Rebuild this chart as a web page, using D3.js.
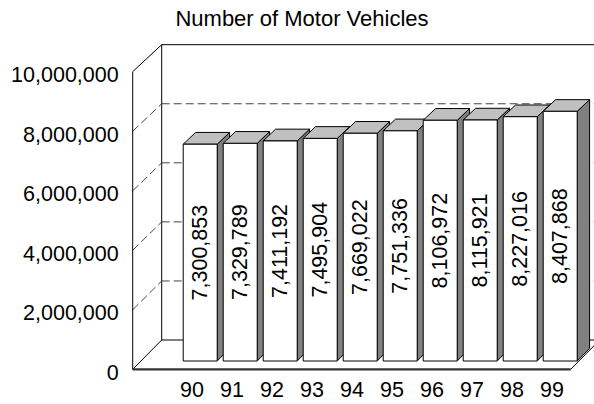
<!DOCTYPE html>
<html>
<head>
<meta charset="utf-8">
<script src="https://cdn.jsdelivr.net/npm/d3@7"></script>
<style>
  body { margin: 0; background: #fff; }
  svg { display: block; font-family: Arial, "Liberation Sans", Helvetica, sans-serif; }
</style>
</head>
<body>
<svg id="chart" width="594" height="404"></svg>
<script>
// chart data
const years = ["90", "91", "92", "93", "94", "95", "96", "97", "98", "99"];
const vehicles = [7300853, 7329789, 7411192, 7495904, 7669022, 7751336, 8106972, 8115921, 8227016, 8407868];
const yTicks = [0, 2000000, 4000000, 6000000, 8000000, 10000000];
const title = "Number of Motor Vehicles";

const svg = d3.select("#chart");
const fmt = d3.format(",");

// frame geometry (front plane and back plane of the box)
const left = 132.7, right = 570.7, depthX = 29;
const yFront = d3.scaleLinear().domain([0, 10000000]).range([369.3, 71.7]);
const yBack = d3.scaleLinear().domain([0, 10000000]).range([340, 44.7]);
const x = d3.scaleBand().domain(years).range([172, 572]).paddingInner(0.15).paddingOuter(0.075);

// point in the box: px = front x, v = value, t = depth 0..1
const pt = (px, v, t) => [px + t * depthX, (1 - t) * yFront(v) + t * yBack(v)];

const frame = svg.append("g").attr("fill", "none");

function seg(g, a, b, dashed, w, col) {
  g.append("line")
    .attr("x1", a[0]).attr("y1", a[1]).attr("x2", b[0]).attr("y2", b[1])
    .attr("stroke", col || "#000")
    .attr("stroke-width", w || 1)
    .attr("stroke-dasharray", dashed ? "8,4" : null);
}

// back wall grid
yTicks.forEach((v) => {
  const inner = v > 0 && v < 10000000;
  seg(frame, pt(left, v, 1), pt(right, v, 1), inner, 1, inner ? "#444" : "#000");
});
seg(frame, pt(left, 0, 1), pt(left, 10000000, 1));

// left wall grid
yTicks.forEach((v) => {
  const inner = v > 0 && v < 10000000;
  seg(frame, pt(left, v, 0), pt(left, v, 1), inner, 1, inner ? "#444" : "#000");
});
seg(frame, pt(left, 0, 0), pt(left, 10000000, 0));

// floor
seg(frame, pt(right, 0, 0), pt(right, 0, 1));

// bars
const t0 = 0.283, t1 = 0.71;
const bars = svg.append("g")
  .selectAll("g")
  .data(vehicles)
  .join("g")
  .attr("stroke", "#000")
  .attr("stroke-width", 1)
  .attr("stroke-linejoin", "round");

const poly = (pts) => "M" + pts.map((p) => p.join(",")).join("L") + "Z";

bars.each(function (d, i) {
  const g = d3.select(this);
  const x0 = x(years[i]), x1 = x0 + x.bandwidth();
  // side face
  g.append("path")
    .attr("fill", "#808080")
    .attr("d", poly([pt(x1, 0, t0), pt(x1, d, t0), pt(x1, d, t1), pt(x1, 0, t1)]));
  // top face
  g.append("path")
    .attr("fill", "#c0c0c0")
    .attr("d", poly([pt(x0, d, t0), pt(x1, d, t0), pt(x1, d, t1), pt(x0, d, t1)]));
  // front face
  g.append("path")
    .attr("fill", "#fff")
    .attr("d", poly([pt(x0, 0, t0), pt(x1, 0, t0), pt(x1, d, t0), pt(x0, d, t0)]));
  // value label
  const c = pt((x0 + x1) / 2, d / 2, t0);
  g.append("text")
    .attr("stroke", "none")
    .attr("fill", "#000")
    .attr("font-size", 21.5)
    .attr("text-anchor", "middle")
    .attr("dominant-baseline", "central")
    .attr("transform", `translate(${c[0]},${c[1]}) rotate(-90)`)
    .text(fmt(d));
});

// front floor edge
seg(svg, pt(left, 0, 0), pt(right, 0, 0), false, 2.2, "#333");

// y axis labels
const yAxis = svg.append("g")
  .attr("transform", `translate(${left},0)`)
  .call(d3.axisLeft(yFront).tickValues(yTicks).tickFormat(fmt).tickSize(0).tickPadding(14));
yAxis.select(".domain").remove();
yAxis.selectAll("text")
  .attr("font-size", 21.5)
  .attr("font-family", null)
  .attr("fill", "#000")
  .attr("dy", "0.47em");

// x axis labels
const xAxis = svg.append("g")
  .attr("transform", `translate(0,${yFront(0)})`)
  .call(d3.axisBottom(x).tickSize(0).tickPadding(12));
xAxis.select(".domain").remove();
xAxis.selectAll("text")
  .attr("font-size", 21.5)
  .attr("font-family", null)
  .attr("fill", "#000");

// title
svg.append("text")
  .attr("x", 302)
  .attr("y", 26)
  .attr("text-anchor", "middle")
  .attr("font-size", 22)
  .text(title);
</script>
</body>
</html>
